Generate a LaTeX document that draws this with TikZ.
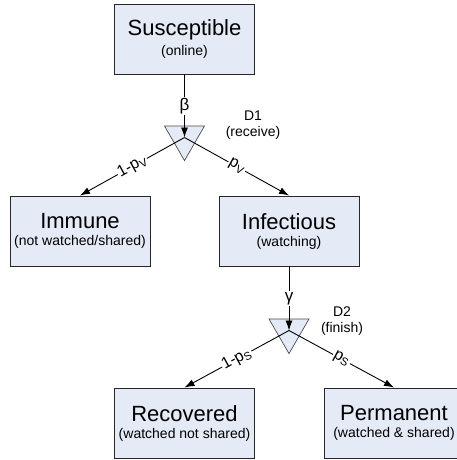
\documentclass[tikz,border=0pt]{standalone}
\usepackage{fontspec}
\setmainfont{Liberation Sans}
\usetikzlibrary{shapes.geometric,arrows.meta}
\definecolor{boxfill}{HTML}{E4EBF7}
\newcommand{\statetxt}[2]{{\fontsize{22}{24}\selectfont #1}\\[5pt]{\fontsize{14}{16}\selectfont (#2)}}

\begin{document}
\begin{tikzpicture}[x=1pt,y=-1pt,
  state/.style={draw=black!85,fill=boxfill,minimum width=140pt,minimum height=70pt,align=center,inner sep=0pt,line width=0.9pt},
  split/.style={draw=black!70,fill=boxfill,regular polygon,regular polygon sides=3,shape border rotate=180,minimum size=46.2pt,inner sep=0pt,line width=0.7pt},
  flow/.style={line width=0.9pt,-{Latex[length=10pt,width=7pt]}},
  prob/.style={fill=white,sloped,inner sep=1pt,font=\fontsize{16}{18}\selectfont},
  rate/.style={fill=white,inner sep=1pt,font=\fontsize{17}{18}\selectfont},
  tag/.style={align=center,font=\fontsize{14}{16}\selectfont}]
\useasboundingbox (0,0) rectangle (457,460);
\foreach \nm/\xx/\yy/\ti/\su in {sus/184.5/39/Susceptible/online,imm/80/231/Immune/not watched\slash shared,inf/289/231/Infectious/watching,rec/184.5/423/Recovered/watched not shared,per/394/423/Permanent/watched \& shared}{
\node[state] (\nm) at (\xx,\yy) {\statetxt{\ti}{\su}};}
\node[split] (d1) at (184.5,137.5) {};
\node[split] (d2) at (289,330.5) {};
\node[tag] (t1) at (253,125) {D1\\(receive)};
\node[tag] (t2) at (342,321) {D2\\(finish)};
\draw[flow] (sus.south) -- node[rate] {β} (d1.center);
\draw[flow] (inf.south) -- node[rate] {γ} (d2.center);
\draw[flow] (d1.center) -- node[prob] {1-p\textsubscript{V}} (imm.north);
\draw[flow] (d1.center) -- node[prob] {p\textsubscript{V}} (inf.north);
\draw[flow] (d2.center) -- node[prob] {1-p\textsubscript{S}} (rec.north);
\draw[flow] (d2.center) -- node[prob] {p\textsubscript{S}} (per.north);
\end{tikzpicture}
\end{document}
